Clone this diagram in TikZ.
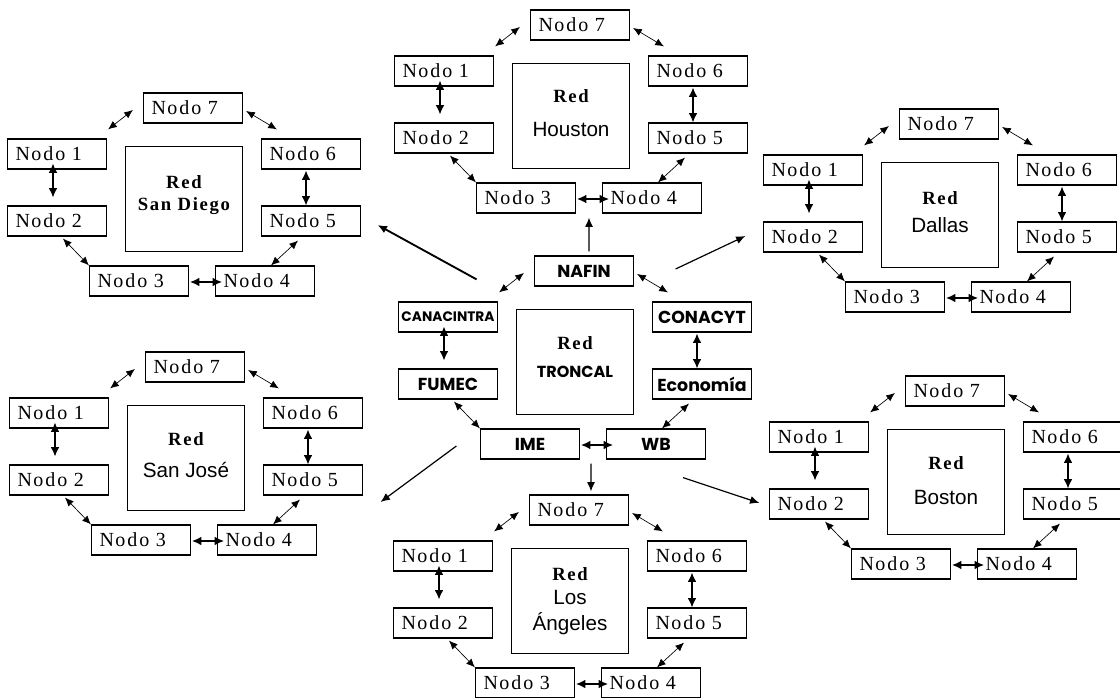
\documentclass[tikz,border=0pt]{standalone}
\usepackage{fontspec}
\setmainfont{Liberation Serif}
\newfontfamily\nodofont{Liberation Serif}[LetterSpace=10]
\newfontfamily\redfont{Liberation Serif}[LetterSpace=9]
\newfontfamily\arialfont{Liberation Sans}
\newfontfamily\gothfont{Poppins}
\usetikzlibrary{arrows.meta,calc}
\tikzset{
  nodo/.style={draw, line width=0.9pt, minimum width=74.25pt, minimum height=22.5pt,
    text width=62.25pt, inner xsep=6pt, inner ysep=0pt, align=left,
    font=\nodofont\fontsize{15}{17}\selectfont},
  gbox/.style={draw, line width=0.9pt, minimum width=74.25pt, minimum height=22.5pt,
    inner sep=0pt, font=\gothfont\bfseries\fontsize{13}{15}\selectfont},
  redbox/.style={draw, line width=0.9pt, minimum width=87.75pt, minimum height=78.75pt,
    inner sep=0pt, align=center, font=\arialfont\fontsize{15.5}{19}\selectfont},
  sdfont/.style={font=\redfont\bfseries\fontsize{14}{17}\selectfont},
  biarrow/.style={{Latex[length=6.5pt,width=5.5pt]}-{Latex[length=6.5pt,width=5.5pt]}, line width=0.5pt},
  biarrowv/.style={{Latex[length=7pt,width=6.5pt]}-{Latex[length=7pt,width=6.5pt]}, line width=0.9pt},
  outarrow/.style={-{Latex[length=7pt,width=6pt]}, line width=0.9pt},
}
\newcommand\redword{{\redfont\bfseries\fontsize{14}{16}\selectfont Red}}
\newcommand\ringarrows[1]{%
  \draw[biarrow] ([shift={(1,-9)}]#11.north east) -- ([shift={(-10,2)}]#17.west);
  \draw[biarrow] ([shift={(3,3)}]#17.east) -- ([shift={(16,-9)}]#16.north west);
  \draw[biarrowv] ([shift={(-4,-6)}]#11.south) -- ([shift={(-4,-8)}]#12.north);
  \draw[biarrowv] ([shift={(-5,1)}]#16.south) -- ([shift={(-5,0)}]#15.north);
  \draw[biarrow] ([shift={(6,2)}]#12.south) -- (#13.north west);
  \draw[biarrow] ([shift={(-13,4)}]#15.south) -- ([shift={(6,0)}]#14.north);
  \draw[biarrowv] ([shift={(1,1)}]#13.east) -- ([shift={(7,1)}]#14.west);
}
\newcommand\nodoring[5]{%
  \begin{scope}[shift={(#2,#3)}]
    \node[nodo] (#17) at (0,0) {N\kern1pt odo 7};
    \node[nodo] (#11) at (-136,46) {N\kern1pt odo 1};
    \node[nodo] (#16) at (118,46) {N\kern1pt odo 6};
    \node[nodo] (#12) at (-136,113) {N\kern1pt odo 2};
    \node[nodo] (#15) at (118,113) {N\kern1pt odo 5};
    \node[nodo] (#13) at (-54,173) {N\kern1pt odo 3};
    \node[nodo] (#14) at (72,173) {N\kern1pt odo 4};
    \node[redbox, #5] (#1R) at (-9,91) {#4};
  \end{scope}
  \ringarrows{#1}%
}
\begin{document}
\begin{tikzpicture}[x=0.75pt, y=-0.75pt]
\fill[white] (0,0) rectangle (1120,698);
\useasboundingbox (0,0) rectangle (1120,698);

% Peripheral networks
\nodoring{H}{580}{25}{\redword\\[6pt]Houston}{text depth=4.5pt}
\nodoring{S}{193}{108}{Red\\San Diego}{sdfont, text depth=9pt}
\nodoring{D}{949}{124}{\redword\\[2pt]Dallas}{text depth=4pt}
\nodoring{J}{195}{367}{\redword\\[5pt]San José}{text depth=4pt}
\nodoring{B}{955}{391}{\redword\\[7pt]Boston}{text depth=2pt}
\nodoring{L}{579}{510}{\redword\\[-1pt]Los\\Ángeles}{}

% Central network
\begin{scope}[shift={(584,271)}]
  \node[gbox] (C7) at (0,0) {NAFIN};
  \node[gbox, font=\gothfont\bfseries\fontsize{10.3}{12}\selectfont] (C1) at (-136,46) {CANACINTRA};
  \node[gbox] (C6) at (118,46) {CONACYT};
  \node[gbox] (C2) at (-136,113) {FUMEC};
  \node[gbox] (C5) at (118,113) {Economía};
  \node[gbox] (C3) at (-54,173) {IME};
  \node[gbox] (C4) at (72,173) {WB};
  \node[redbox, font=\gothfont\bfseries\fontsize{12}{21}\selectfont, text depth=8pt] (CR) at (-9,91) {\redword\\TRONCAL};
\end{scope}
\ringarrows{C}

% Links from the central network
\draw[outarrow] ([shift={(5,-4)}]C7.north) -- ($(H3.south east)!0.5!(H4.south west)+(0,4)$);
\draw[outarrow, line width=1.4pt] ([shift={(-21.5,-22)}]C1.north east) -- ([shift={(16.5,4)}]S5.east);
\draw[outarrow] ([shift={(41.5,-2)}]C7.east) -- ([shift={(-17.5,-1)}]D2.west);
\draw[outarrow] ([shift={(-23.5,2)}]C3.west) -- ([shift={(17.5,22)}]J5.east);
\draw[outarrow] ([shift={(27,18)}]C4.south) -- ([shift={(-9.5,-1)}]B2.west);
\draw[outarrow] ($(C3.south east)!0.5!(C4.south west)+(-2,4)$) -- ([shift={(12,-3)}]L7.north);
\end{tikzpicture}
\end{document}
